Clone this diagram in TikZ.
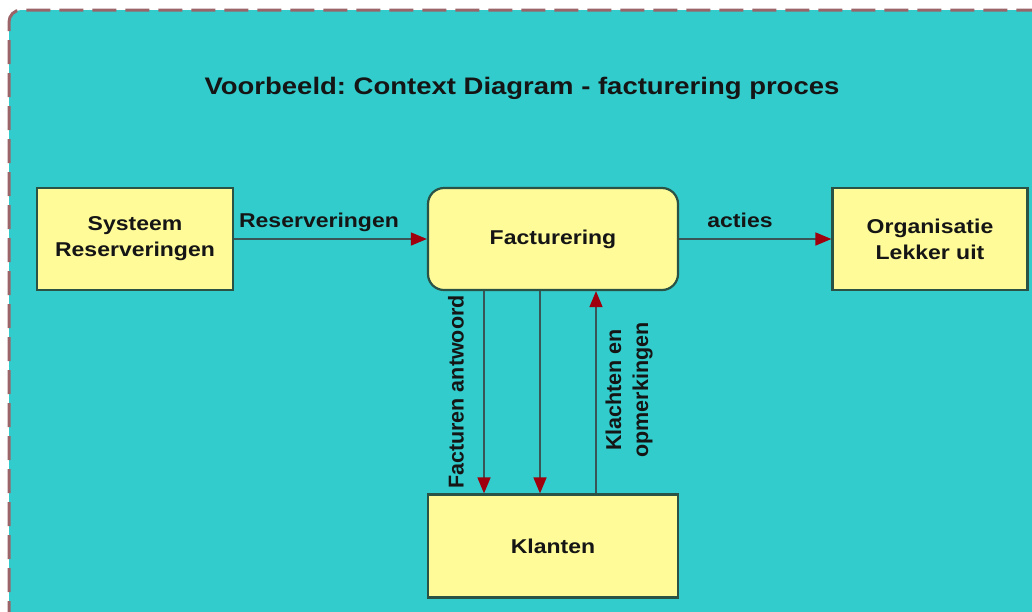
\documentclass[tikz,border=0pt]{standalone}
\usepackage{fontspec}
\usetikzlibrary{arrows.meta}
\newfontfamily\lab{Liberation Sans Bold}[FakeStretch=1.15]
\newfontfamily\vlab{Liberation Sans Bold}
\newfontfamily\titlefont{Liberation Sans Bold}[FakeStretch=1.15]
\frenchspacing
\definecolor{bgcyan}{HTML}{33CCCC}
\definecolor{boxyellow}{HTML}{FFFB99}
\definecolor{boxline}{HTML}{2A5245}
\definecolor{flowline}{HTML}{3A5555}
\definecolor{tipred}{HTML}{A0000E}
\definecolor{framedash}{HTML}{9A6468}
\definecolor{ink}{HTML}{151515}
\tikzset{
  entity/.style={draw=boxline, line width=2.2pt, fill=boxyellow, inner sep=0pt,
    align=center, text=ink, font=\lab\fontsize{20}{26}\selectfont},
  process/.style={entity, rounded corners=16pt},
  flow/.style={draw=flowline, line width=1.5pt,
    -{Triangle[length=16pt, width=13pt, color=tipred]}},
  flowlabel/.style={inner sep=0pt, text=ink, align=center,
    font=\lab\fontsize{20}{26}\selectfont},
  vflowlabel/.style={flowlabel, rotate=90, font=\vlab\fontsize{21.5}{27}\selectfont},
}
\begin{document}
\begin{tikzpicture}[x=1pt, y=-1pt]
\useasboundingbox (0,0) rectangle (1032,611);
% background panel with dashed frame
\fill[bgcyan, rounded corners=12pt] (9,625) -- (9,10) -- (1045,10) -- (1045,625) -- cycle;
\draw[framedash, line width=3pt, dash pattern=on 24pt off 9pt, rounded corners=12pt]
  (9,625) -- (9,10) -- (1045,10);
% title
\node[inner sep=0pt, text=ink, font=\titlefont\fontsize{23.9}{28}\selectfont, anchor=base]
  (title) at (522,94) {Voorbeeld: Context Diagram - facturering proces};
% entities and process
\node[entity, minimum width=196pt, minimum height=102pt] (sys) at (135,239) {Systeem\\Reserveringen};
\node[process, minimum width=250pt, minimum height=102pt] (fact) at (553,239) {Facturering};
\node[entity, minimum width=195pt, minimum height=102pt] (org) at (930,239) {Organisatie\\Lekker uit};
\node[entity, minimum width=250pt, minimum height=103pt] (kl) at (553,546) {Klanten};
% columns of the vertical flows
\coordinate (c1) at (484,0);
\coordinate (c2) at (540,0);
\coordinate (c3) at (596,0);
% flows
\draw[flow] (sys.east) -- (fact.west);
\draw[flow] (fact.east) -- (org.west);
\draw[flow] (fact.south -| c1) -- (kl.north -| c1);
\draw[flow] (fact.south -| c2) -- (kl.north -| c2);
\draw[flow] (kl.north -| c3) -- (fact.south -| c3);
% flow labels
\node[flowlabel, anchor=base] (lres) at (319,227) {Reserveringen};
\node[flowlabel, anchor=base] (lact) at (740,227) {acties};
\node[vflowlabel] (lfac) at (456,392) {Facturen antwoord};
\node[vflowlabel] (lkla) at (629,390) {Klachten en\\opmerkingen};
\end{tikzpicture}
\end{document}
